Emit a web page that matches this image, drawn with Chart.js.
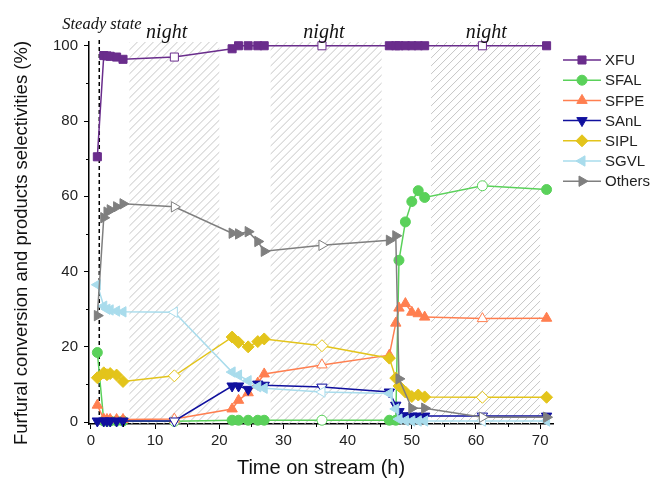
<!DOCTYPE html>
<html>
<head>
<meta charset="utf-8">
<script src="https://cdn.jsdelivr.net/npm/chart.js@4.4.1/dist/chart.umd.min.js"></script>
<style>
  html, body { margin: 0; padding: 0; background: #fff; }
  #wrap { width: 653px; height: 482px; }
</style>
</head>
<body>
<div id="wrap"><canvas id="my-chart" width="653" height="482"></canvas></div>
<script>
// time on stream (h)
const hours = [1, 2, 2.5, 3, 4, 5, 13, 22, 23, 24.5, 26, 27, 36, 46.5, 47.5, 48, 49, 50, 51, 52, 61, 71];

// conversion and selectivities (%)
const xfu    = [70.5, 97.4, 97.3, 97.2, 97.0, 96.4, 97.0, 99.2, 100, 100, 100, 100, 100, 100, 100, 100, 100, 100, 100, 100, 100, 100];
const sfal   = [18.5, 0.3, 0.3, 0.3, 0.3, 0.3, 0.2, 0.5, 0.5, 0.5, 0.5, 0.5, 0.5, 0.5, 0.5, 43.0, 53.2, 58.6, 61.5, 59.7, 62.8, 61.8];
const sfpe   = [4.5, 0.8, 0.7, 0.7, 0.7, 0.7, 0.8, 3.5, 5.8, 7.8, 10.4, 12.8, 15.2, 17.8, 26.3, 30.3, 31.5, 29.2, 28.8, 27.9, 27.5, 27.6];
const sanl   = [0.3, 0.3, 0.3, 0.3, 0.3, 0.3, 0.3, 9.6, 9.6, 8.7, 10.1, 9.8, 9.3, 8.0, 4.5, 2.8, 1.7, 1.6, 1.6, 1.6, 1.6, 1.6];
const sipl   = [11.8, 13.1, 12.6, 12.9, 12.5, 10.8, 12.3, 22.6, 21.2, 20.0, 21.4, 22.1, 20.3, 17.0, 11.7, 9.6, 8.0, 6.8, 7.2, 6.7, 6.6, 6.6];
const sgvl   = [36.5, 30.8, 30.0, 29.8, 29.5, 29.3, 29.2, 13.3, 12.5, 11.0, 9.4, 9.0, 8.0, 7.6, 3.5, 0.8, 0.4, 0.3, 0.3, 0.3, 0.3, 0.3];
const others = [28.3, 54.3, 55.8, 56.4, 57.2, 58.0, 57.2, 50.2, 50.0, 50.6, 48.0, 45.4, 47.0, 48.3, 49.5, 11.5, null, 3.7, null, 3.7, 1.3, 1.3];

const seriesNames = ['XFU', 'SFAL', 'SFPE', 'SAnL', 'SIPL', 'SGVL', 'Others'];

// night periods (h) and where the label sits
const nightSpans = [[6, 20], [28, 45.3], [53, 70]];
const nightLabelHours = [11.8, 36.3, 61.6];
const steadyStateHour = 1.3;
// samples taken at night are drawn hollow
const hollowHours = [13, 36, 61];

const xTicks = [0, 10, 20, 30, 40, 50, 60, 70];
const yTicks = [0, 20, 40, 60, 80, 100];

const FONT = "'Liberation Sans', Arial, sans-serif";
const SERIF = "'Liberation Serif', 'Times New Roman', serif";
const Y_TITLE = 'Furfural conversion and products selectivities (%)';

const styles = [
  { color: '#6a2d8c', pointStyle: 'rect', radius: 5.7, rotation: 0 },
  { color: '#5ad15a', pointStyle: 'circle', radius: 5, rotation: 0 },
  { color: '#ff7f50', pointStyle: 'triangle', radius: 6, rotation: 0 },
  { color: '#10109e', pointStyle: 'triangle', radius: 6, rotation: 180 },
  { color: '#e3c41b', pointStyle: 'rectRot', radius: 6, rotation: 0 },
  { color: '#a9dcec', pointStyle: 'triangle', radius: 6, rotation: 270 },
  { color: '#7f7f7f', pointStyle: 'triangle', radius: 6, rotation: 90 }
];

const allValues = [xfu, sfal, sfpe, sanl, sipl, sgvl, others];

const datasets = allValues.map((vals, i) => {
  const st = styles[i];
  return {
    label: seriesNames[i],
    data: hours.map((h, k) => ({ x: h, y: vals[k] })),
    borderColor: st.color,
    borderWidth: 1.5,
    pointStyle: st.pointStyle,
    pointRadius: st.radius,
    pointRotation: st.rotation,
    pointBorderColor: st.color,
    pointBorderWidth: 1,
    pointBackgroundColor: ctx => hollowHours.includes(hours[ctx.dataIndex]) ? '#ffffff' : st.color,
    spanGaps: true,
    clip: false,
    order: allValues.length - i
  };
});

// hatched night bands + steady state dashed line
const nightBands = {
  id: 'nightBands',
  beforeDatasetsDraw(chart) {
    const { ctx, chartArea: a, scales: { x } } = chart;
    ctx.save();
    nightSpans.forEach(([s, e]) => {
      const x0 = x.getPixelForValue(s);
      const x1 = x.getPixelForValue(e);
      ctx.save();
      ctx.beginPath();
      ctx.rect(x0, a.top, x1 - x0, a.bottom - a.top);
      ctx.clip();
      ctx.strokeStyle = '#c6c6c6';
      ctx.lineWidth = 1;
      const h = a.bottom - a.top;
      for (let p = x0 - h; p < x1 + 8; p += 8) {
        ctx.beginPath();
        ctx.moveTo(p, a.bottom);
        ctx.lineTo(p + h, a.top);
        ctx.stroke();
      }
      ctx.restore();
    });
    const xs = x.getPixelForValue(steadyStateHour);
    ctx.strokeStyle = '#000';
    ctx.lineWidth = 1.5;
    ctx.setLineDash([4, 3]);
    ctx.beginPath();
    ctx.moveTo(xs, a.top - 2);
    ctx.lineTo(xs, a.bottom);
    ctx.stroke();
    ctx.restore();
  }
};

// labels, minor ticks, y title and the line+marker legend
const extras = {
  id: 'extras',
  afterDraw(chart) {
    const { ctx, chartArea: a, scales: { x, y } } = chart;
    ctx.save();

    // minor ticks
    ctx.strokeStyle = '#000';
    ctx.lineWidth = 1;
    for (let v = 5; v < 72; v += 10) {
      const px = Math.round(x.getPixelForValue(v)) + 0.5;
      ctx.beginPath();
      ctx.moveTo(px, a.bottom);
      ctx.lineTo(px, a.bottom + 3);
      ctx.stroke();
    }
    for (let v = 10; v < 101; v += 20) {
      const py = Math.round(y.getPixelForValue(v)) + 0.5;
      ctx.beginPath();
      ctx.moveTo(a.left, py);
      ctx.lineTo(a.left - 3, py);
      ctx.stroke();
    }

    // y title, a little below the plot centre like the original
    ctx.save();
    ctx.translate(22, (a.top + a.bottom) / 2 + 10);
    ctx.rotate(-Math.PI / 2);
    ctx.fillStyle = '#111';
    ctx.font = '18.5px ' + FONT;
    ctx.textAlign = 'center';
    ctx.textBaseline = 'middle';
    ctx.fillText(Y_TITLE, 0, 0);
    ctx.restore();

    // night labels
    ctx.fillStyle = '#111';
    ctx.textAlign = 'center';
    ctx.textBaseline = 'alphabetic';
    ctx.font = 'italic 20px ' + SERIF;
    nightLabelHours.forEach(h => {
      ctx.fillText('night', x.getPixelForValue(h), a.top - 4);
    });
    ctx.font = 'italic 16.5px ' + SERIF;
    ctx.textAlign = 'left';
    ctx.fillText('Steady state', x.getPixelForValue(steadyStateHour) - 37, a.top - 13);

    // legend
    const lx = a.right + 10;
    chart.data.datasets.forEach((ds, i) => {
      const st = styles[i];
      const ly = a.top + 18 + i * 20.2;
      ctx.strokeStyle = st.color;
      ctx.lineWidth = 1.5;
      ctx.setLineDash([]);
      ctx.beginPath();
      ctx.moveTo(lx, ly);
      ctx.lineTo(lx + 38, ly);
      ctx.stroke();
      ctx.fillStyle = st.color;
      ctx.lineWidth = 1;
      Chart.helpers.drawPoint(ctx, {
        pointStyle: st.pointStyle,
        rotation: st.rotation,
        radius: st.radius,
        borderWidth: 1
      }, lx + 19, ly);
      ctx.fillStyle = '#222';
      ctx.font = '15px ' + FONT;
      ctx.textAlign = 'left';
      ctx.textBaseline = 'middle';
      ctx.fillText(ds.label, lx + 42, ly + 1);
    });
    ctx.restore();
  }
};

const ctx = document.getElementById('my-chart').getContext('2d');

const myChart = new Chart(ctx, {
  type: 'line',
  data: { datasets },
  options: {
    responsive: false,
    animation: false,
    devicePixelRatio: 1,
    layout: { padding: { left: 0, top: 42, right: 100, bottom: 0 } },
    plugins: { legend: { display: false }, tooltip: { enabled: false } },
    scales: {
      x: {
        type: 'linear',
        min: -0.3,
        max: 72,
        afterFit: s => { s.height = 58; },
        afterBuildTicks: s => { s.ticks = xTicks.map(v => ({ value: v })); },
        ticks: { font: { size: 15, family: FONT }, color: '#222', padding: 3, maxRotation: 0 },
        grid: { drawOnChartArea: false, tickLength: 5, color: '#000', lineWidth: 1 },
        border: { color: '#000', width: 1.5 },
        title: {
          display: true,
          text: 'Time on stream (h)',
          font: { size: 20, family: FONT },
          color: '#111',
          padding: { top: 2, bottom: 2 }
        }
      },
      y: {
        type: 'linear',
        min: -0.5,
        max: 101,
        afterFit: s => { s.width = 89; },
        afterBuildTicks: s => { s.ticks = yTicks.map(v => ({ value: v })); },
        ticks: { font: { size: 15, family: FONT }, color: '#222', padding: 6 },
        grid: { drawOnChartArea: false, tickLength: 5, color: '#000', lineWidth: 1 },
        border: { color: '#000', width: 1.5 },
        title: { display: false }
      }
    }
  },
  plugins: [nightBands, extras]
});
</script>
</body>
</html>
